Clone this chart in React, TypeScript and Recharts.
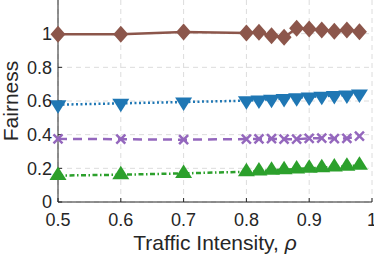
import React from 'react';
import { LineChart, Line, XAxis, YAxis, CartesianGrid } from 'recharts';

const rhoValues = [0.5, 0.6, 0.7, 0.8, 0.82, 0.84, 0.86, 0.88, 0.9, 0.92, 0.94, 0.96, 0.98];
const brownSeries = [0.996, 0.996, 1.01, 1.004, 1.008, 0.988, 0.978, 1.032, 1.028, 1.022, 1.014, 1.022, 1.012];
const blueSeries = [0.578, 0.586, 0.594, 0.602, 0.606, 0.611, 0.615, 0.62, 0.624, 0.628, 0.632, 0.636, 0.642];
const purpleSeries = [0.375, 0.373, 0.37, 0.374, 0.375, 0.376, 0.373, 0.373, 0.378, 0.379, 0.377, 0.378, 0.392];
const greenSeries = [0.157, 0.162, 0.17, 0.18, 0.184, 0.188, 0.192, 0.196, 0.2, 0.204, 0.208, 0.212, 0.218];
const xTicks = [0.5, 0.6, 0.7, 0.8, 0.9, 1];
const yTicks = [0, 0.2, 0.4, 0.6, 0.8, 1];

const data = rhoValues.map((rho, i) => ({
  rho,
  brown: brownSeries[i],
  blue: blueSeries[i],
  purple: purpleSeries[i],
  green: greenSeries[i],
}));

const FONT = '"Liberation Sans", Arial, Helvetica, sans-serif';
const TEXT = '#262626';

// markers, sized like the matlab ones
const Diamond = ({ cx, cy }: any) => (
  <polygon points={`${cx},${cy - 8.5} ${cx + 7.5},${cy} ${cx},${cy + 8.5} ${cx - 7.5},${cy}`} fill="#8c564b" />
);

const TriDown = ({ cx, cy }: any) => (
  <polygon points={`${cx - 8.5},${cy - 4.5} ${cx + 8.5},${cy - 4.5} ${cx},${cy + 9}`} fill="#1f77b4" />
);

const TriUp = ({ cx, cy }: any) => (
  <polygon points={`${cx - 8.5},${cy + 4.5} ${cx + 8.5},${cy + 4.5} ${cx},${cy - 9}`} fill="#2ca02c" />
);

const Cross = ({ cx, cy }: any) => (
  <g stroke="#9467bd" strokeWidth={2.5}>
    <line x1={cx - 4.5} y1={cy - 4.5} x2={cx + 4.5} y2={cy + 4.5} />
    <line x1={cx - 4.5} y1={cy + 4.5} x2={cx + 4.5} y2={cy - 4.5} />
  </g>
);

const XTitle = ({ viewBox }: any) => (
  <text x={viewBox.x + viewBox.width / 2} y={viewBox.y + 48} textAnchor="middle" fill={TEXT} fontSize={21} fontFamily={FONT}>
    Traffic Intensity, <tspan fontStyle="italic">ρ</tspan>
  </text>
);

const YTitle = ({ viewBox }: any) => {
  const cx = 18;
  const cy = viewBox.y + viewBox.height / 2;
  return (
    <text x={cx} y={cy} transform={`rotate(-90 ${cx} ${cy})`} textAnchor="middle" fill={TEXT} fontSize={21} fontFamily={FONT}>
      Fairness
    </text>
  );
};

export default function App() {
  const tick = { fill: TEXT, fontSize: 18, fontFamily: FONT };
  return (
    <div style={{ position: 'absolute', left: 0, top: 0, background: '#fff' }}>
      <LineChart width={374} height={257} data={data} margin={{ top: 0, right: 2, bottom: 0, left: 0 }}>
        <CartesianGrid stroke="#dcdcdc" strokeDasharray="5 4" horizontalValues={yTicks} verticalValues={xTicks} />
        <XAxis
          type="number"
          dataKey="rho"
          domain={[0.5, 1]}
          ticks={xTicks}
          height={55}
          stroke={TEXT}
          tick={tick}
          tickSize={-4}
          tickMargin={15}
          interval={0}
          label={<XTitle />}
        />
        <YAxis
          domain={[0, 1.2]}
          ticks={yTicks}
          width={58}
          stroke={TEXT}
          tick={tick}
          tickSize={-4}
          tickMargin={10}
          interval={0}
          allowDataOverflow
          label={<YTitle />}
        />
        <YAxis
          yAxisId="right"
          orientation="right"
          domain={[0, 1.2]}
          ticks={yTicks}
          width={0}
          stroke={TEXT}
          tick={false}
          tickSize={-4}
        />
        <Line dataKey="brown" stroke="#8c564b" strokeWidth={2.5} dot={<Diamond />} isAnimationActive={false} />
        <Line dataKey="blue" stroke="#1f77b4" strokeWidth={2.5} strokeDasharray="2 2.5" dot={<TriDown />} isAnimationActive={false} />
        <Line dataKey="purple" stroke="#9467bd" strokeWidth={2.5} strokeDasharray="9 6" dot={<Cross />} isAnimationActive={false} />
        <Line dataKey="green" stroke="#2ca02c" strokeWidth={2.5} strokeDasharray="5 2.5 1.5 2.5" dot={<TriUp />} isAnimationActive={false} />
      </LineChart>
    </div>
  );
}
